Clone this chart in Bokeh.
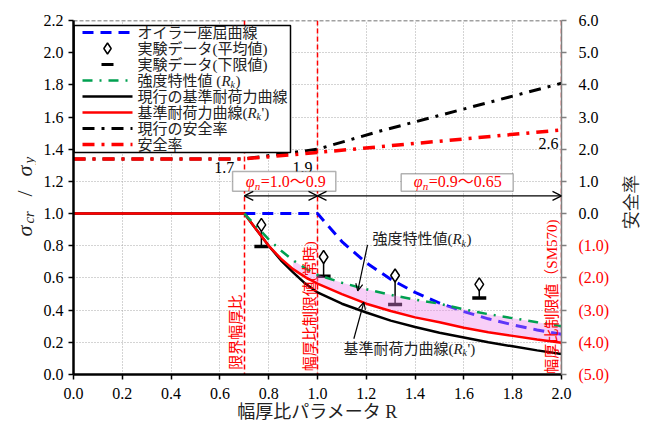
from math import pi
from bokeh.plotting import figure
from bokeh.layouts import row
from bokeh.models import (Range1d, LinearAxis, FixedTicker, NumeralTickFormatter,
                          Label, BoxAnnotation, Arrow, OpenHead)
from bokeh.embed import file_html
from bokeh.resources import INLINE

# ---------------- data ----------------
x_ticks = [0.0, 0.2, 0.4, 0.6, 0.8, 1.0, 1.2, 1.4, 1.6, 1.8, 2.0]
y_ticks = [0.0, 0.2, 0.4, 0.6, 0.8, 1.0, 1.2, 1.4, 1.6, 1.8, 2.0, 2.2]
sf_ticks = [-5, -4, -3, -2, -1, 0, 1, 2, 3, 4, 5, 6]
sf_labels = ["(5.0)", "(4.0)", "(3.0)", "(2.0)", "(1.0)", "0.0", "1.0", "2.0", "3.0", "4.0", "5.0", "6.0"]

R_curve = [0.0, 0.7, 0.75, 0.8, 0.85, 0.9, 0.95, 1.0, 1.1, 1.2, 1.3, 1.4, 1.5, 1.6, 1.7, 1.8, 1.9, 2.0]
current_curve = [1.0, 1.0, 0.90, 0.80, 0.71, 0.635, 0.565, 0.51, 0.44, 0.385, 0.335, 0.295, 0.26, 0.23, 0.20, 0.175, 0.15, 0.128]
rk_prime = [1.0, 1.0, 0.90, 0.80, 0.72, 0.655, 0.605, 0.565, 0.50, 0.44, 0.395, 0.355, 0.325, 0.29, 0.262, 0.24, 0.218, 0.197]
R_rk = [0.7, 0.75, 0.8, 0.85, 0.9, 0.95, 1.0, 1.1, 1.2, 1.3, 1.4, 1.5, 1.6, 1.7, 1.8, 1.9, 2.0]
rk = [1.0, 0.92, 0.84, 0.77, 0.71, 0.66, 0.62, 0.57, 0.53, 0.495, 0.465, 0.44, 0.405, 0.375, 0.35, 0.325, 0.30]

R_euler = [0.7, 1.0, 1.1, 1.2, 1.3, 1.4, 1.5, 1.6, 1.7, 1.8, 1.9, 2.0]
euler = [1.0, 1.0, 0.826, 0.694, 0.592, 0.510, 0.444, 0.391, 0.346, 0.309, 0.277, 0.25]

R_exp = [0.77, 1.025, 1.318, 1.663]
exp_avg = [0.93, 0.73, 0.615, 0.56]
exp_low = [0.795, 0.61, 0.435, 0.475]

R_sf_new = [0.0, 0.7, 1.0, 2.0]
sf_new = [1.7, 1.7, 1.9, 2.6]
R_sf_cur = [0.0, 0.7, 1.0, 1.25, 1.5, 1.75, 2.0]
sf_cur = [1.7, 1.7, 2.0, 2.55, 3.05, 3.55, 4.05]

limit_R = [0.7, 1.0, 2.0]

legend_labels = ["オイラー座屈曲線", "実験データ(平均値)", "実験データ(下限値)", "強度特性値 (",
                 "現行の基準耐荷力曲線", "基準耐荷力曲線(", "現行の安全率", "安全率"]

SERIF = "Liberation Serif, Noto Sans CJK JP"
JP = "Noto Sans CJK JP"
RED = "#FF0000"
BLUE = "#0000FF"
GREEN = "#00A050"
TXT = "#222222"

# ---------------- layout geometry (pixels) ----------------
H = 425
TOP, BOTTOM = 20, 51
W_LEFT = 36
W_MAIN = 539
W_RIGHT = 648 - W_LEFT - W_MAIN
FRAME_L = W_LEFT + 37
FRAME_R = W_LEFT + W_MAIN - 14
FRAME_H = H - TOP - BOTTOM
X_END, Y_END = 2.0, 2.2

def px_x(px):
    return (px - FRAME_L) * X_END / (FRAME_R - FRAME_L)

def px_y(py):
    return (H - BOTTOM - py) * Y_END / FRAME_H

def padded_range(lo, hi):
    per_px = (hi - lo) / FRAME_H
    return Range1d(lo - BOTTOM * per_px, hi + TOP * per_px)

def no_align(fig):
    if "frame_align" in fig.properties():
        fig.frame_align = False

# ---------------- main figure ----------------
p = figure(width=W_MAIN, height=H, x_range=Range1d(0, X_END), y_range=Range1d(0, Y_END),
           output_backend="svg", toolbar_location=None,
           min_border_left=37, min_border_right=14, min_border_top=TOP, min_border_bottom=BOTTOM)
p.outline_line_color = None
p.extra_y_ranges = {"sf": Range1d(-5, 6)}
no_align(p)

for ax in (p.xaxis[0], p.yaxis[0]):
    ax.formatter = NumeralTickFormatter(format="0.0")
    ax.axis_line_width = 2.5
    ax.axis_line_color = "black"
    ax.major_tick_out = 5
    ax.major_tick_in = 0
    ax.major_tick_line_width = 1.5
    ax.minor_tick_line_color = None
    ax.major_label_text_font = SERIF
    ax.major_label_text_font_size = "16px"
    ax.major_label_text_color = "black"
p.xaxis.ticker = FixedTicker(ticks=x_ticks)
p.yaxis.ticker = FixedTicker(ticks=y_ticks)
p.xaxis.major_label_standoff = 8
p.xaxis.axis_label = "幅厚比パラメータ R"
p.xaxis.axis_label_text_font = SERIF
p.xaxis.axis_label_text_font_style = "normal"
p.xaxis.axis_label_text_font_size = "18px"
p.xaxis.axis_label_text_color = TXT
p.xaxis.axis_label_standoff = 0

rax = LinearAxis(y_range_name="sf", ticker=FixedTicker(ticks=[], minor_ticks=sf_ticks),
                 axis_line_color="#808080", axis_line_width=1.5,
                 minor_tick_line_color="#808080", minor_tick_line_width=1.5,
                 minor_tick_out=5, minor_tick_in=0, major_tick_line_color=None)
p.add_layout(rax, "right")

p.xgrid.ticker = FixedTicker(ticks=x_ticks)
p.ygrid.ticker = FixedTicker(ticks=y_ticks)
p.grid.grid_line_color = "#A8A8A8"
p.grid.grid_line_dash = "1 2"
p.grid.grid_line_width = 1

p.hspan(y=[Y_END], line_color="#444444", line_dash="4 2", line_width=1.5)
p.vspan(x=limit_R, line_color=RED, line_dash="5 3", line_width=1.5)

# ---------------- data glyphs ----------------
blue_style = dict(line_color=BLUE, line_width=3, line_dash="11 7")
black_style = dict(line_color="black", line_width=2.5)
red_style = dict(line_color=RED, line_width=2.5)
green_style = dict(line_color=GREEN, line_width=2.5, line_dash="10 7 2 7")
sfc_style = dict(line_color="black", line_width=3, line_dash="12 7 3 7")
sfn_style = dict(line_color=RED, line_width=3.5, line_dash="12 7 3 7")
avg_style = dict(marker="diamond", size=13, line_width=1.5, line_color="black", fill_color="white")
low_style = dict(marker="dash", size=14, line_width=3.5, line_color="black")

p.line(R_euler, euler, **blue_style)
p.line(R_curve, current_curve, **black_style)
p.segment(x0=R_exp, y0=exp_low, x1=R_exp, y1=exp_avg, line_color="black", line_width=1.5)
p.scatter(R_exp, exp_low, **low_style)

fill_idx = [i for i, r in enumerate(R_curve) if r >= 0.9]
R_fill = [R_curve[i] for i in fill_idx]
rk_fill = [rk[R_rk.index(R_curve[i])] for i in fill_idx]
rkp_fill = [rk_prime[i] for i in fill_idx]
p.varea(x=R_fill, y1=rkp_fill, y2=rk_fill, fill_color="#EE88EE", fill_alpha=0.40)

p.line(R_curve, rk_prime, **red_style)
p.line(R_rk, rk, **green_style)
p.scatter(R_exp, exp_avg, **avg_style)

p.line(R_sf_cur, sf_cur, y_range_name="sf", **sfc_style)
p.line(R_sf_new, sf_new, y_range_name="sf", **sfn_style)

# ---------------- legend (drawn in the frame) ----------------
def lab(x, y, text, dx=0, dy=0, size="16px", font=SERIF, style="normal", color="black",
        angle=0.0, align="left", baseline="middle"):
    p.add_layout(Label(x=x, y=y, x_offset=dx, y_offset=dy, text=text, text_font=font,
                       text_font_size=size, text_font_style=style, text_color=color,
                       angle=angle, text_align=align, text_baseline=baseline))

p.quad(left=px_x(FRAME_L + 0.5), right=px_x(290), top=px_y(25), bottom=px_y(152),
       fill_color="white", line_color="black", line_width=1.5)
row_py = [32 + 16 * i for i in range(len(legend_labels))]
sx0, sx1, sxm, tx = px_x(82), px_x(132), px_x(107), px_x(137)
styles = [blue_style, None, None, green_style, black_style, red_style, sfc_style, sfn_style]
for i, (py, st) in enumerate(zip(row_py, styles)):
    yy = px_y(py)
    if st is not None:
        p.line([sx0, sx1], [yy, yy], **st)
    lab(tx, yy, legend_labels[i], size="15px", color=TXT)
p.scatter([sxm], [px_y(row_py[1])], **dict(avg_style, size=11))
p.scatter([sxm], [px_y(row_py[2])], **dict(low_style, size=12, line_width=3))
for i, tail, dxr in ((3, ")", 84), (5, "')", 110)):
    yy = px_y(row_py[i])
    lab(tx, yy, "R", dx=dxr, size="15px", style="italic", color=TXT)
    lab(tx, yy, "k", dx=dxr + 9, dy=-4, size="10px", style="italic", color=TXT)
    lab(tx, yy, tail, dx=dxr + 14, size="15px", color=TXT)

# ---------------- annotations ----------------
lab(0.7, 1.285, "1.7", dx=-10, align="right")
lab(1.0, 1.285, "1.9", dx=-5, align="right")
lab(2.0, 1.435, "2.6", dx=-3, align="right")

p.add_layout(BoxAnnotation(left=0.652, right=1.075, bottom=1.139, top=1.261, fill_color="white",
                           fill_alpha=1.0, line_color="black", line_width=1.5))
p.add_layout(BoxAnnotation(left=1.343, right=1.802, bottom=1.139, top=1.247, fill_color="white",
                           fill_alpha=1.0, line_color="black", line_width=1.5))
for x0, txt in ((0.706, "=1.0〜0.9"), (1.394, "=0.9〜0.65")):
    lab(x0, 1.198, "φ", size="16px", style="italic", color=RED)
    lab(x0, 1.198, "n", dx=9, dy=-4, size="11px", style="italic", color=RED)
    lab(x0, 1.198, txt, dx=15, size="16px", color=RED)

for xs, xe in ((0.7, 1.0), (1.0, 2.0)):
    p.add_layout(Arrow(x_start=xs, x_end=xe, y_start=1.11, y_end=1.11, line_width=1.2,
                       start=OpenHead(size=9, line_width=1.2), end=OpenHead(size=9, line_width=1.2)))

lab(1.225, 0.84, "強度特性値(", size="15px", color=TXT)
lab(1.225, 0.84, "R", dx=80, size="15px", style="italic", color=TXT)
lab(1.225, 0.84, "k", dx=89, dy=-4, size="10px", style="italic", color=TXT)
lab(1.225, 0.84, ")", dx=94, size="15px", color=TXT)
p.add_layout(Arrow(x_start=1.205, y_start=0.805, x_end=1.165, y_end=0.52, line_width=1.2,
                   end=OpenHead(size=7, line_width=1.2)))

lab(1.107, 0.16, "基準耐荷力曲線(", size="15px", color=TXT)
lab(1.107, 0.16, "R", dx=110, size="15px", style="italic", color=TXT)
lab(1.107, 0.16, "k", dx=119, dy=-4, size="10px", style="italic", color=TXT)
lab(1.107, 0.16, "')", dx=124, size="15px", color=TXT)
p.add_layout(Arrow(x_start=1.149, y_start=0.222, x_end=1.19, y_end=0.449, line_width=1.2,
                   end=OpenHead(size=7, line_width=1.2)))

lab(0.661, 0.03, "限界幅厚比", size="15px", font=JP, color=RED, angle=pi / 2)
lab(0.97, 0.02, "幅厚比制限値(常時)", size="15px", font=SERIF, color=RED, angle=pi / 2)
lab(1.962, 0.005, "幅厚比制限値（SM570)", size="15px", font=SERIF, color=RED, angle=pi / 2)

# ---------------- left panel: y-axis title sigma_cr / sigma_y ----------------
aligned = "frame_align" in p.properties()
p0 = figure(width=W_LEFT, height=H, x_range=Range1d(0, W_LEFT),
            y_range=padded_range(0, Y_END) if aligned else Range1d(0, Y_END),
            output_backend="svg", toolbar_location=None, x_axis_type=None, y_axis_type=None,
            min_border=0)
p0.outline_line_color = None
p0.grid.visible = False
no_align(p0)
ytitle_at = 0.857
for txt, dx, dy, size, style in (("σ", 0, 0, "22px", "italic"),
                                 ("cr", 4, -13, "15px", "italic"),
                                 ("/", 0, -40, "22px", "normal"),
                                 ("σ", 0, -60, "22px", "italic"),
                                 ("y", 4, -73, "15px", "italic")):
    p0.text(x=[24], y=[ytitle_at], text=[txt], x_offset=dx, y_offset=dy, angle=pi / 2,
            text_font=SERIF, text_font_size=size, text_font_style=style,
            text_color=TXT, text_align="left", text_baseline="middle")

# ---------------- right panel: safety-factor tick labels and title ----------------
p2 = figure(width=W_RIGHT, height=H, x_range=Range1d(0, W_RIGHT),
            y_range=padded_range(-5, 6) if aligned else Range1d(-5, 6),
            output_backend="svg", toolbar_location=None, x_axis_type=None, y_axis_type=None,
            min_border=0)
p2.outline_line_color = None
p2.grid.visible = False
no_align(p2)
p2.text(x=[3] * len(sf_ticks), y=sf_ticks, text=sf_labels,
        text_color=["black" if v >= 0 else RED for v in sf_ticks],
        text_font=SERIF, text_font_size="16px", text_align="left", text_baseline="middle")
p2.text(x=[55], y=[0.35], text=["安全率"], angle=pi / 2, text_font=JP, text_font_size="18px",
        text_color=TXT, text_align="center", text_baseline="middle")

layout = row(p0, p, p2, spacing=0)
open("out.html", "w").write(file_html(layout, INLINE))
